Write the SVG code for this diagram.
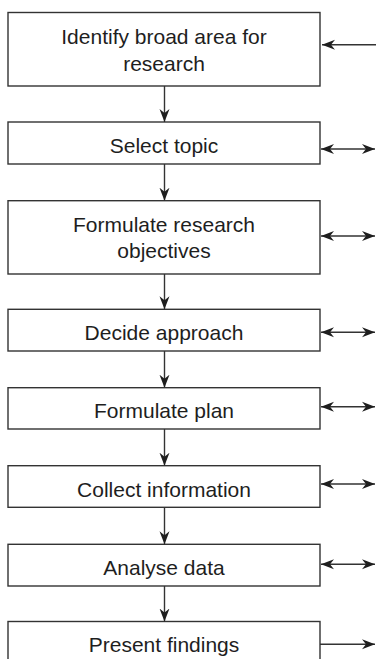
<svg xmlns="http://www.w3.org/2000/svg" width="376" height="659" viewBox="0 0 376 659">
<style>
.box{fill:#fff;stroke:#333;stroke-width:1.4}
.lbl{font-family:"Liberation Sans",Arial,sans-serif;font-size:21px;fill:#1e1e1e;text-anchor:middle}
.con{stroke:#333;stroke-width:1.4;fill:none}
</style>
<defs>
<marker id="ah" markerUnits="userSpaceOnUse" markerWidth="14" markerHeight="12" refX="13" refY="5.5" orient="auto-start-reverse">
<path d="M13,5.5 L0,0.5 L4,5.5 L0,10.5 Z" fill="#1e1e1e"/>
</marker>
</defs>
<rect x="0" y="0" width="376" height="659" fill="#fff"/>
<g id="n1"><rect class="box" x="8" y="12.5" width="312" height="73.5"/><text class="lbl" x="164" y="43.5">Identify broad area for</text><text class="lbl" x="164" y="71">research</text></g>
<g id="n2"><rect class="box" x="8" y="122" width="312" height="42"/><text class="lbl" x="164" y="153">Select topic</text></g>
<g id="n3"><rect class="box" x="8" y="200.7" width="312" height="73.3"/><text class="lbl" x="164" y="232">Formulate research</text><text class="lbl" x="164" y="258">objectives</text></g>
<g id="n4"><rect class="box" x="8" y="309.3" width="312" height="41.7"/><text class="lbl" x="164" y="340">Decide approach</text></g>
<g id="n5"><rect class="box" x="8" y="387.7" width="312" height="41.3"/><text class="lbl" x="164" y="418">Formulate plan</text></g>
<g id="n6"><rect class="box" x="8" y="465.7" width="312" height="41.6"/><text class="lbl" x="164" y="497">Collect information</text></g>
<g id="n7"><rect class="box" x="8" y="544.3" width="312" height="41.7"/><text class="lbl" x="164" y="575">Analyse data</text></g>
<g id="n8"><rect class="box" x="8" y="621.5" width="312" height="60"/><text class="lbl" x="164" y="652">Present findings</text></g>
<g id="connectors">
<line class="con" x1="164.5" y1="86" x2="164.5" y2="122" marker-end="url(#ah)"/>
<line class="con" x1="164.5" y1="164" x2="164.5" y2="200.7" marker-end="url(#ah)"/>
<line class="con" x1="164.5" y1="274" x2="164.5" y2="309.3" marker-end="url(#ah)"/>
<line class="con" x1="164.5" y1="351" x2="164.5" y2="387.7" marker-end="url(#ah)"/>
<line class="con" x1="164.5" y1="429" x2="164.5" y2="465.7" marker-end="url(#ah)"/>
<line class="con" x1="164.5" y1="507.3" x2="164.5" y2="544.3" marker-end="url(#ah)"/>
<line class="con" x1="164.5" y1="586" x2="164.5" y2="621.5" marker-end="url(#ah)"/>
<line class="con" x1="376" y1="44.7" x2="322" y2="44.7" marker-end="url(#ah)"/>
<line class="con" x1="321" y1="149" x2="375" y2="149" marker-start="url(#ah)" marker-end="url(#ah)"/>
<line class="con" x1="321" y1="236" x2="375" y2="236" marker-start="url(#ah)" marker-end="url(#ah)"/>
<line class="con" x1="321" y1="332.3" x2="375" y2="332.3" marker-start="url(#ah)" marker-end="url(#ah)"/>
<line class="con" x1="321" y1="406.7" x2="375" y2="406.7" marker-start="url(#ah)" marker-end="url(#ah)"/>
<line class="con" x1="321" y1="484" x2="375" y2="484" marker-start="url(#ah)" marker-end="url(#ah)"/>
<line class="con" x1="321" y1="564.3" x2="375" y2="564.3" marker-start="url(#ah)" marker-end="url(#ah)"/>
<line class="con" x1="320" y1="644.3" x2="375" y2="644.3" marker-end="url(#ah)"/>
</g>
</svg>
